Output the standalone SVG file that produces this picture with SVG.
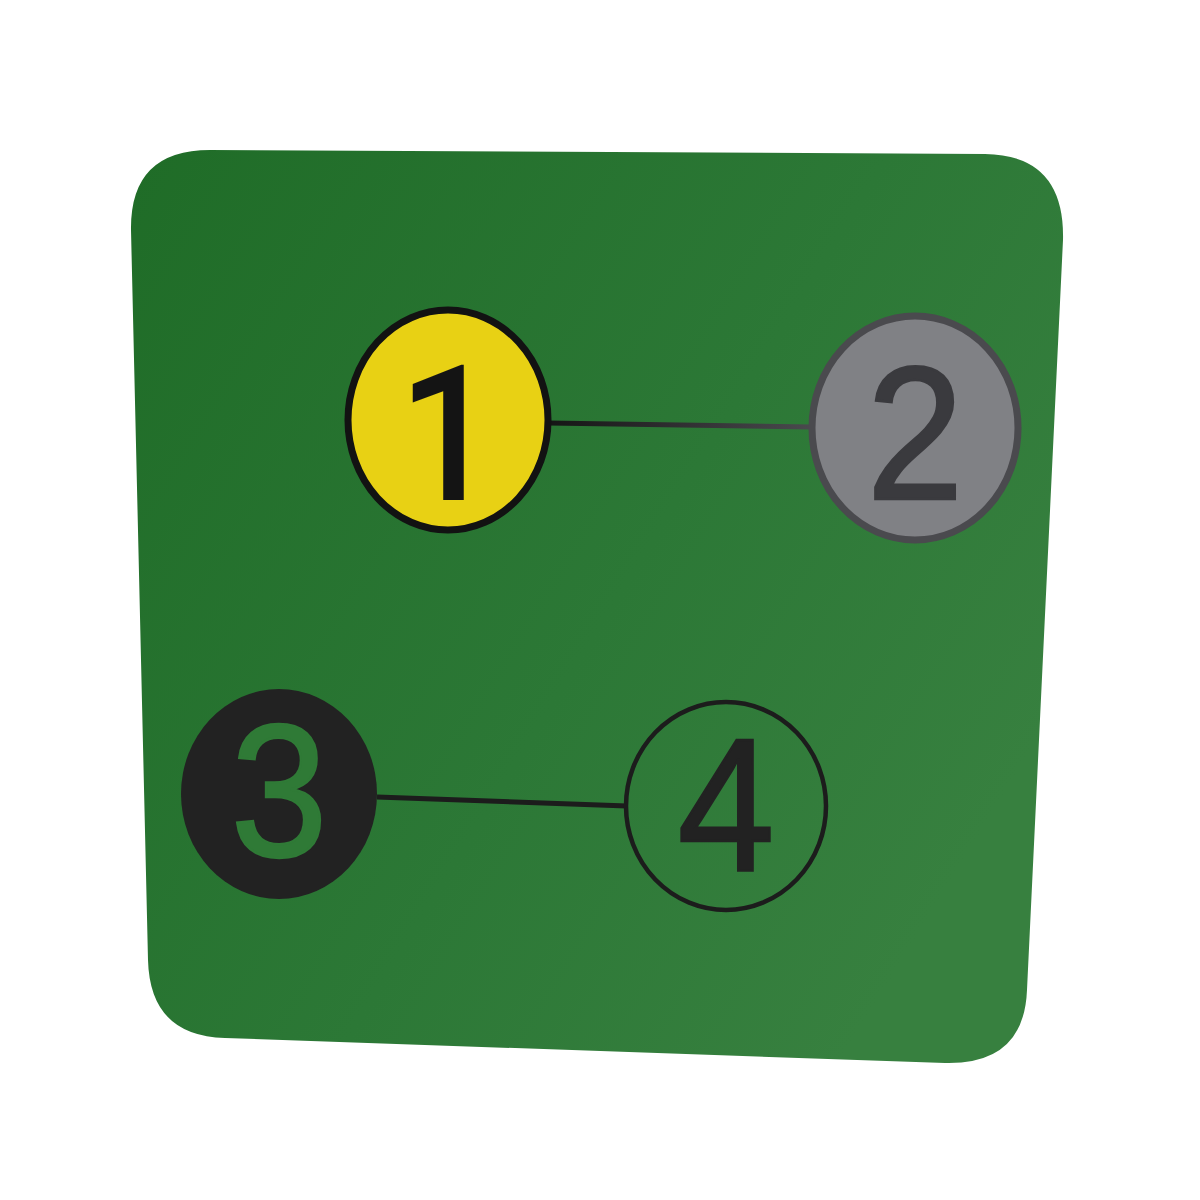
<svg xmlns="http://www.w3.org/2000/svg" width="1200" height="1200" viewBox="0 0 1200 1200">
<defs>
<linearGradient id="card" x1="0" y1="0" x2="1" y2="0.6">
<stop offset="0" stop-color="#1f6c27"/>
<stop offset="0.6" stop-color="#2c7836"/>
<stop offset="1" stop-color="#37803f"/>
</linearGradient>
<linearGradient id="l12" x1="0" y1="0" x2="1" y2="0">
<stop offset="0" stop-color="#151515"/>
<stop offset="1" stop-color="#4a4a4e"/>
</linearGradient>
<style>
.num{font-family:"Liberation Sans",Arial,sans-serif;font-size:190px;text-anchor:middle;stroke-width:2.5}
.one{font-family:Roboto,"Liberation Sans",Arial,sans-serif;font-weight:500}
.edge{fill:none;stroke-width:5}
</style>
</defs>
<rect width="1200" height="1200" fill="#ffffff"/>
<path id="card-bg" d="M 210 150 L 985 154 Q 1065 155 1063 240 L 1027 990 Q 1024 1065 945 1063 L 225 1038 Q 150 1036 148 960 L 131 230 Q 130 150 210 150 Z" fill="url(#card)"/>
<g id="connectors">
<line class="edge" x1="548" y1="423" x2="812" y2="427" stroke="url(#l12)"/>
<line class="edge" x1="377" y1="797" x2="627" y2="806" stroke="#1c1c1c"/>
</g>
<g id="node1">
<ellipse cx="448" cy="420" rx="100" ry="110" fill="#e8d114" stroke="#121212" stroke-width="7"/>
<text class="num one" x="448" y="500" fill="#141414" transform="translate(448 0) scale(0.92 1) translate(-448 0)">1</text>
</g>
<g id="node2">
<ellipse cx="915" cy="428" rx="103" ry="112" fill="#808185" stroke="#4a4a4e" stroke-width="7"/>
<text class="num" x="915" y="499" fill="#3a3a3e" stroke="#3a3a3e" transform="translate(915 0) scale(0.92 1) translate(-915 0)">2</text>
</g>
<g id="node3">
<ellipse cx="279" cy="794" rx="98" ry="105" fill="#222222"/>
<text class="num" x="279" y="856" fill="#2f7a36" stroke="#2f7a36" transform="translate(279 0) scale(0.92 1) translate(-279 0)">3</text>
</g>
<g id="node4">
<ellipse cx="726" cy="806" rx="100" ry="104" fill="none" stroke="#1c1c1c" stroke-width="4.5"/>
<text class="num" x="726" y="871" fill="#222222" stroke="#222222" transform="translate(726 0) scale(0.92 1) translate(-726 0)">4</text>
</g>
</svg>
